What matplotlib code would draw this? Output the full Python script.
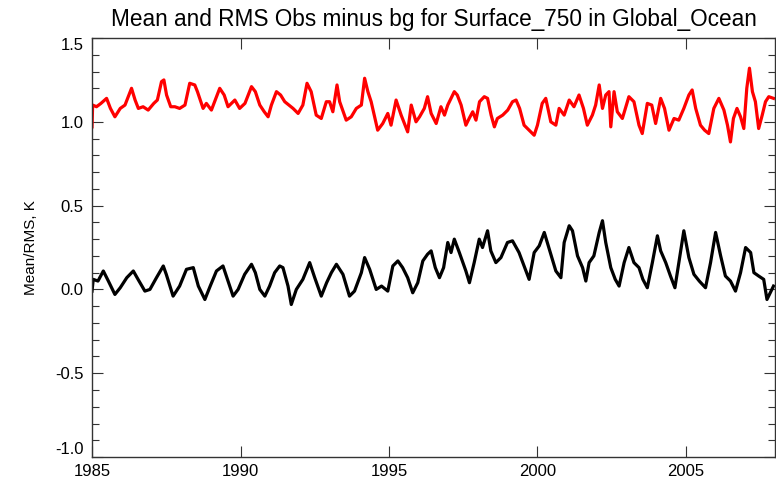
import matplotlib
matplotlib.use("Agg")
import matplotlib.pyplot as plt
from matplotlib.ticker import MultipleLocator

plt.rcParams['font.family'] = ['Liberation Sans', 'DejaVu Sans']

# === data ===
rms_years = [
    1985.00, 1985.02, 1985.15, 1985.30, 1985.49, 1985.62, 1985.77, 1985.95,
    1986.11, 1986.33, 1986.45, 1986.56, 1986.72, 1986.89, 1987.08, 1987.20,
    1987.34, 1987.42, 1987.51, 1987.65, 1987.79, 1987.95, 1988.13, 1988.29,
    1988.46, 1988.55, 1988.74, 1988.85, 1989.02, 1989.30, 1989.45, 1989.58,
    1989.81, 1989.97, 1990.15, 1990.37, 1990.50, 1990.65, 1990.80, 1990.93,
    1991.04, 1991.21, 1991.35, 1991.49, 1991.77, 1991.94, 1992.10, 1992.24,
    1992.38, 1992.55, 1992.72, 1992.89, 1993.00, 1993.11, 1993.25, 1993.34,
    1993.56, 1993.73, 1993.90, 1994.07, 1994.18, 1994.29, 1994.40, 1994.62,
    1994.79, 1994.96, 1995.07, 1995.24, 1995.41, 1995.63, 1995.75, 1995.91,
    1996.03, 1996.19, 1996.30, 1996.42, 1996.59, 1996.75, 1996.87, 1996.98,
    1997.20, 1997.30, 1997.43, 1997.59, 1997.70, 1997.82, 1997.93, 1998.05,
    1998.21, 1998.32, 1998.44, 1998.55, 1998.65, 1998.83, 1999.00, 1999.16,
    1999.28, 1999.40, 1999.55, 1999.72, 1999.89, 2000.00, 2000.16, 2000.28,
    2000.45, 2000.62, 2000.73, 2000.90, 2001.07, 2001.23, 2001.40, 2001.55,
    2001.68, 2001.85, 2001.96, 2002.08, 2002.19, 2002.30, 2002.41, 2002.47,
    2002.58, 2002.69, 2002.86, 2002.96, 2003.08, 2003.25, 2003.42, 2003.53,
    2003.70, 2003.85, 2003.98, 2004.15, 2004.28, 2004.43, 2004.60, 2004.76,
    2004.93, 2005.10, 2005.21, 2005.33, 2005.49, 2005.63, 2005.77, 2005.94,
    2006.11, 2006.28, 2006.40, 2006.50, 2006.60, 2006.72, 2006.84, 2006.95,
    2007.05, 2007.14, 2007.24, 2007.34, 2007.45, 2007.57, 2007.68, 2007.79,
    2007.95,
]
rms_values = [
    0.97, 1.10, 1.09, 1.11, 1.14, 1.08, 1.03, 1.08,
    1.10, 1.20, 1.13, 1.08, 1.09, 1.07, 1.11, 1.13,
    1.24, 1.25, 1.16, 1.09, 1.09, 1.08, 1.10, 1.23,
    1.22, 1.18, 1.08, 1.11, 1.07, 1.20, 1.16, 1.09,
    1.13, 1.08, 1.11, 1.21, 1.18, 1.10, 1.06, 1.03,
    1.10, 1.18, 1.16, 1.12, 1.08, 1.05, 1.10, 1.23,
    1.18, 1.04, 1.02, 1.12, 1.12, 1.06, 1.22, 1.12,
    1.01, 1.03, 1.08, 1.10, 1.26, 1.18, 1.12, 0.95,
    0.99, 1.05, 0.98, 1.13, 1.04, 0.94, 1.10, 1.00,
    1.03, 1.08, 1.15, 1.05, 0.99, 1.09, 1.04, 1.10,
    1.18, 1.16, 1.10, 0.98, 1.02, 1.06, 1.01, 1.12,
    1.15, 1.14, 1.04, 0.97, 1.02, 1.04, 1.07, 1.12,
    1.13, 1.08, 0.98, 0.95, 0.92, 0.98, 1.11, 1.14,
    1.00, 0.98, 1.08, 1.04, 1.13, 1.09, 1.16, 1.08,
    0.98, 1.04, 1.10, 1.22, 1.08, 1.16, 1.18, 0.97,
    1.18, 1.06, 1.02, 1.08, 1.15, 1.12, 0.98, 0.93,
    1.11, 1.10, 0.99, 1.14, 1.08, 0.95, 1.02, 1.01,
    1.08, 1.16, 1.19, 1.08, 0.98, 0.95, 0.93, 1.08,
    1.14, 1.07, 0.98, 0.88, 1.02, 1.08, 1.03, 0.96,
    1.20, 1.32, 1.18, 1.12, 0.96, 1.04, 1.12, 1.15,
    1.14,
]

mean_years = [
    1985.00, 1985.04, 1985.20, 1985.38, 1985.55, 1985.77, 1985.95, 1986.17,
    1986.39, 1986.55, 1986.78, 1986.95, 1987.17, 1987.40, 1987.50, 1987.73,
    1987.95, 1988.18, 1988.41, 1988.58, 1988.80, 1988.98, 1989.19, 1989.41,
    1989.58, 1989.75, 1989.92, 1990.14, 1990.37, 1990.50, 1990.65, 1990.82,
    1990.98, 1991.15, 1991.32, 1991.43, 1991.60, 1991.71, 1991.88, 1992.10,
    1992.33, 1992.50, 1992.72, 1992.90, 1993.06, 1993.23, 1993.45, 1993.67,
    1993.84, 1994.07, 1994.18, 1994.35, 1994.57, 1994.75, 1994.96, 1995.13,
    1995.30, 1995.46, 1995.63, 1995.80, 1995.97, 1996.14, 1996.30, 1996.42,
    1996.56, 1996.70, 1996.84, 1996.98, 1997.09, 1997.20, 1997.37, 1997.59,
    1997.71, 1997.87, 1998.04, 1998.15, 1998.32, 1998.43, 1998.60, 1998.77,
    1998.99, 1999.16, 1999.38, 1999.55, 1999.72, 1999.89, 2000.06, 2000.23,
    2000.40, 2000.62, 2000.79, 2000.90, 2001.07, 2001.18, 2001.35, 2001.52,
    2001.63, 2001.74, 2001.90, 2002.08, 2002.19, 2002.30, 2002.47, 2002.62,
    2002.75, 2002.92, 2003.08, 2003.25, 2003.42, 2003.55, 2003.70, 2003.87,
    2004.04, 2004.15, 2004.32, 2004.48, 2004.63, 2004.78, 2004.93, 2005.10,
    2005.27, 2005.45, 2005.66, 2005.83, 2006.00, 2006.17, 2006.33, 2006.50,
    2006.67, 2006.84, 2007.01, 2007.18, 2007.29, 2007.45, 2007.62, 2007.73,
    2007.95,
]
mean_values = [
    -0.01, 0.06, 0.05, 0.11, 0.05, -0.03, 0.01, 0.07,
    0.11, 0.06, -0.01, 0.00, 0.07, 0.14, 0.09, -0.04,
    0.02, 0.12, 0.13, 0.02, -0.06, 0.02, 0.11, 0.14,
    0.05, -0.04, 0.00, 0.09, 0.15, 0.10, 0.00, -0.04,
    0.02, 0.10, 0.14, 0.13, 0.02, -0.09, 0.00, 0.06,
    0.16, 0.07, -0.04, 0.04, 0.10, 0.15, 0.09, -0.04,
    -0.01, 0.10, 0.19, 0.12, 0.00, 0.02, -0.01, 0.14,
    0.17, 0.13, 0.07, -0.02, 0.04, 0.17, 0.21, 0.23,
    0.13, 0.07, 0.13, 0.28, 0.22, 0.30, 0.22, 0.11,
    0.04, 0.16, 0.30, 0.25, 0.35, 0.23, 0.16, 0.19,
    0.28, 0.29, 0.22, 0.14, 0.06, 0.22, 0.26, 0.34,
    0.24, 0.11, 0.07, 0.28, 0.38, 0.35, 0.20, 0.13,
    0.05, 0.16, 0.20, 0.34, 0.41, 0.28, 0.13, 0.06,
    0.02, 0.16, 0.25, 0.16, 0.13, 0.06, 0.01, 0.16,
    0.32, 0.23, 0.16, 0.08, 0.01, 0.18, 0.35, 0.19,
    0.09, 0.05, 0.01, 0.16, 0.34, 0.20, 0.08, 0.05,
    -0.01, 0.10, 0.25, 0.22, 0.10, 0.08, 0.06, -0.06,
    0.02,
]

title = "Mean and RMS Obs minus bg for Surface_750 in Global_Ocean"
ylabel = "Mean/RMS, K"
xticks = [1985, 1990, 1995, 2000, 2005]
yticks = [-1.0, -0.5, 0.0, 0.5, 1.0, 1.5]

# === figure ===
fig = plt.figure(figsize=(7.76, 4.90), dpi=100)
ax = fig.add_axes([0.1186, 0.0673, 0.8801, 0.8551])

ax.plot(rms_years, rms_values, color="#ff0000", lw=2.3)
ax.plot(mean_years, mean_values, color="black", lw=2.3)

ax.set_xlim(1985, 2008)
ax.set_ylim(-1.0, 1.5)
ax.set_xticks(xticks)
ax.set_xticklabels([str(t) for t in xticks])
ax.set_yticks(yticks)
ax.set_yticklabels([f"{t:.1f}" for t in yticks])
ax.yaxis.set_minor_locator(MultipleLocator(0.1))

ax.tick_params(axis="both", which="both", direction="in", top=True, right=True,
               labelsize=12, width=0.8, color="#333333")
ax.tick_params(axis="both", which="major", length=8)
ax.tick_params(axis="y", which="minor", length=5)
ax.tick_params(axis="x", pad=5)
ax.tick_params(axis="y", pad=6)

# end labels sit inside the axis range like the IDL output
ylabs = ax.get_yticklabels()
ylabs[0].set_va("bottom")
ylabs[-1].set_va("top")

for s in ax.spines.values():
    s.set_linewidth(1.0)
    s.set_color("#333333")

ax.set_title(title, fontsize=16.3, pad=9)
ax.set_ylabel(ylabel, fontsize=11)
ax.yaxis.set_label_coords(-0.079, 0.5)

fig.savefig("out.png", dpi=100)
